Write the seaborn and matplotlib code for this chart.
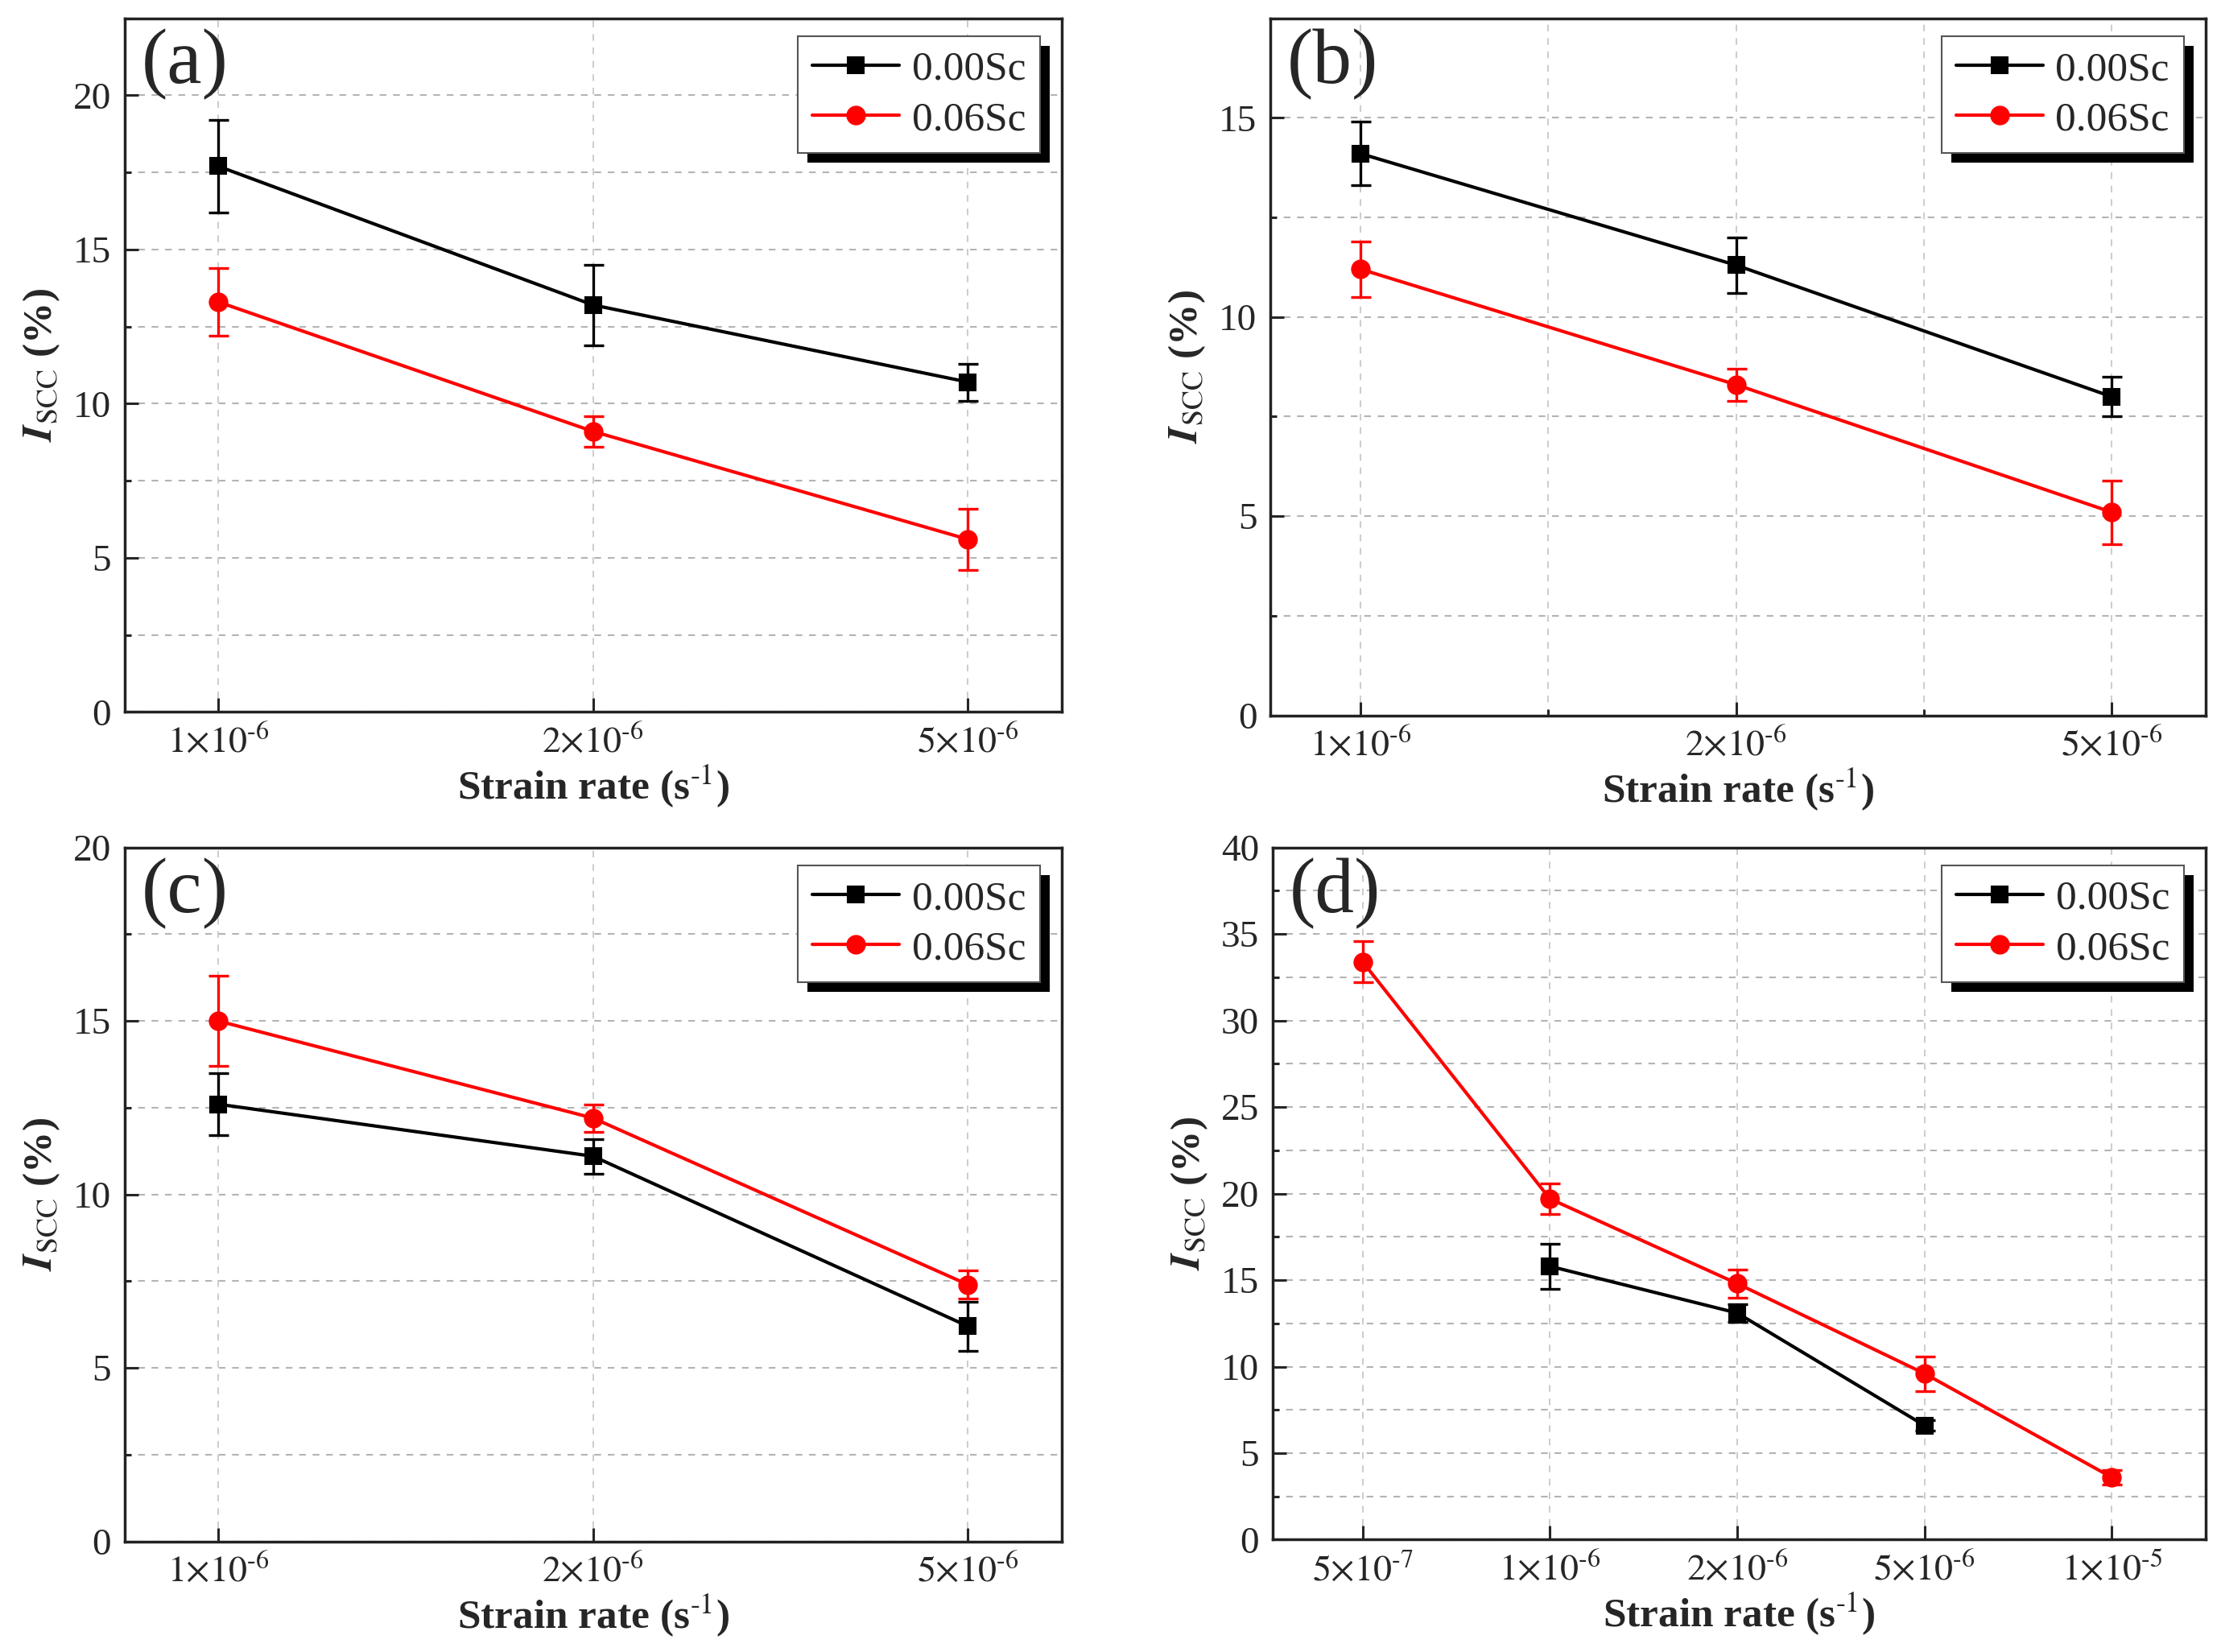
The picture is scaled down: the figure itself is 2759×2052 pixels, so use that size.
import numpy as np
import pandas as pd
import matplotlib
matplotlib.use('Agg')
import matplotlib.pyplot as plt
from matplotlib.lines import Line2D
from matplotlib.patches import Rectangle
from matplotlib.ticker import MultipleLocator, FixedLocator
import seaborn as sns

# strain rates (categories, evenly spaced on the axis)
rates_abc = ['1e-6', '2e-6', '5e-6']
rates_d = ['5e-7', '1e-6', '2e-6', '5e-6', '1e-5']
tick_labels = {
    '5e-7': '$5{\\times}10^{\u2010 7}$',
    '1e-6': '$1{\\times}10^{\u2010 6}$',
    '2e-6': '$2{\\times}10^{\u2010 6}$',
    '5e-6': '$5{\\times}10^{\u2010 6}$',
    '1e-5': '$1{\\times}10^{\u2010 5}$',
}

# panel (a)
a_black = [17.7, 13.2, 10.7]
a_black_err = [1.5, 1.3, 0.6]
a_red = [13.3, 9.1, 5.6]
a_red_err = [1.1, 0.5, 1.0]

# panel (b)
b_black = [14.1, 11.3, 8.0]
b_black_err = [0.8, 0.7, 0.5]
b_red = [11.2, 8.3, 5.1]
b_red_err = [0.7, 0.4, 0.8]

# panel (c)
c_black = [12.6, 11.1, 6.2]
c_black_err = [0.9, 0.5, 0.7]
c_red = [15.0, 12.2, 7.4]
c_red_err = [1.3, 0.4, 0.4]

# panel (d)
d_black_rates = ['1e-6', '2e-6', '5e-6']
d_black = [15.8, 13.1, 6.6]
d_black_err = [1.3, 0.5, 0.3]
d_red = [33.4, 19.7, 14.8, 9.6, 3.6]
d_red_err = [1.2, 0.9, 0.8, 1.0, 0.4]

series_names = ['0.00Sc', '0.06Sc']
colors = {'0.00Sc': 'black', '0.06Sc': 'red'}
markers = {'0.00Sc': 's', '0.06Sc': 'o'}
msizes = {'0.00Sc': 14, '0.06Sc': 16}

sns.set_style('ticks')
plt.rcParams['font.family'] = ['Liberation Serif', 'DejaVu Serif']
plt.rcParams['mathtext.fontset'] = 'stix'
plt.rcParams['font.size'] = 34

fig = plt.figure(figsize=(27.59, 20.52), dpi=100)

panels = [
    # label, rect, cats, black(rates, vals, err), red(rates, vals, err), ylim, ytick step, xlim
    ('(a)', [0.056, 0.569, 0.422, 0.420], rates_abc,
     (rates_abc, a_black, a_black_err), (rates_abc, a_red, a_red_err), 22.5, 5, (-0.25, 2.25)),
    ('(b)', [0.572, 0.567, 0.421, 0.422], rates_abc,
     (rates_abc, b_black, b_black_err), (rates_abc, b_red, b_red_err), 17.5, 5, (-0.24, 2.25)),
    ('(c)', [0.056, 0.067, 0.422, 0.420], rates_abc,
     (rates_abc, c_black, c_black_err), (rates_abc, c_red, c_red_err), 20, 5, (-0.25, 2.25)),
    ('(d)', [0.573, 0.068, 0.420, 0.419], rates_d,
     (d_black_rates, d_black, d_black_err), (rates_d, d_red, d_red_err), 40, 5, (-0.48, 4.5)),
]

axes = []
for label, rect, cats, blk, red, ytop, ystep, xlim in panels:
    ax = fig.add_axes(rect)
    rows = []
    for name, (rts, vals, errs) in zip(series_names, [blk, red]):
        for r, v, e in zip(rts, vals, errs):
            rows.append({'pos': cats.index(r), 'value': v, 'err': e, 'series': name})
    df = pd.DataFrame(rows)

    sns.lineplot(data=df, x='pos', y='value', hue='series', style='series',
                 palette=colors, markers=markers, dashes=False, linewidth=3,
                 legend=False, ax=ax, zorder=3)
    for line, name in zip(ax.lines, series_names):
        line.set_markersize(msizes[name])
        line.set_markeredgewidth(1.5)
        line.set_markeredgecolor(colors[name])
        line.set_linewidth(3)

    for name in series_names:
        sub = df[df['series'] == name]
        ax.errorbar(sub['pos'], sub['value'], yerr=sub['err'], fmt='none',
                    ecolor=colors[name], elinewidth=2.4, capsize=9, capthick=2.4, zorder=3)

    ax.set_xlim(*xlim)
    ax.set_ylim(0, ytop)
    ax.xaxis.set_major_locator(FixedLocator(range(len(cats))))
    ax.set_xticklabels([tick_labels[c] for c in cats])
    ax.yaxis.set_major_locator(MultipleLocator(ystep))
    ax.yaxis.set_minor_locator(MultipleLocator(ystep / 2))
    if label == '(b)':
        ax.xaxis.set_minor_locator(FixedLocator([0.5, 1.5]))
        ax.grid(axis='x', which='minor', ls=(0, (5, 5)), color='#c4c4c4', lw=1.2)

    ax.grid(axis='y', which='both', ls=(0, (4, 4)), color='#b4b4b4', lw=1.5)
    ax.grid(axis='x', which='major', ls=(0, (5, 5)), color='#c4c4c4', lw=1.2)
    ax.set_axisbelow(True)

    ax.tick_params(axis='both', which='major', direction='in', length=12, width=2.2,
                   labelsize=34, pad=12)
    ax.tick_params(axis='both', which='minor', direction='in', length=6, width=2.2)
    ax.tick_params(axis='x', which='major', labelsize=33)
    for sp in ax.spines.values():
        sp.set_linewidth(2.5)
        sp.set_color('#222222')

    ax.set_xlabel('Strain rate (s$^{\u2010\\mathrm{1}}$)', fontsize=37, fontweight='bold',
                  labelpad=2)
    ax.set_ylabel(r'$\bfit{I}_{\mathrm{SCC}}$ (%)', fontsize=37, fontweight='bold', labelpad=10)

    ax.text(0.018, 0.985, label, transform=ax.transAxes, fontsize=70,
            ha='left', va='top')

    handles = [Line2D([], [], color=colors[n], marker=markers[n], markersize=msizes[n],
                      lw=3, markeredgewidth=1.5, markeredgecolor=colors[n])
               for n in series_names]
    leg = ax.legend(handles, series_names, loc='upper right', bbox_to_anchor=(0.977, 0.974),
                    fontsize=37, frameon=True, fancybox=False, framealpha=1,
                    edgecolor='#555555', handlelength=2.1, handletextpad=0.3,
                    labelspacing=0.3, borderpad=0.35, borderaxespad=0)
    leg.get_frame().set_linewidth(1.5)
    leg.set_zorder(6)
    axes.append((ax, leg))

# black offset shadow behind each legend box
fig.canvas.draw()
renderer = fig.canvas.get_renderer()
for ax, leg in axes:
    bb = leg.get_frame().get_window_extent(renderer)
    inv = ax.transAxes.inverted()
    (x0, y0), (x1, y1) = inv.transform([[bb.x0 + 12, bb.y0 - 12], [bb.x1 + 12, bb.y1 - 12]])
    ax.add_patch(Rectangle((x0, y0), x1 - x0, y1 - y0, transform=ax.transAxes,
                           facecolor='black', edgecolor='none', zorder=5.5, clip_on=False))

fig.savefig('out.png', dpi=100, facecolor='white')
